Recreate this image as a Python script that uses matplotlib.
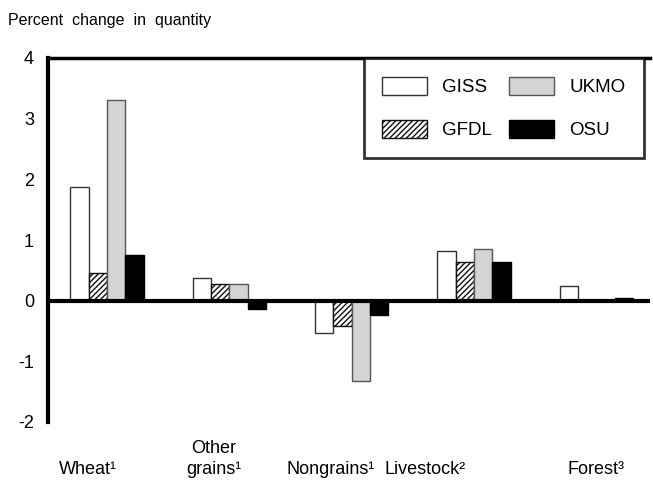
import matplotlib
matplotlib.use("Agg")
import matplotlib.pyplot as plt
import matplotlib.transforms as mtransforms
from matplotlib.patches import Patch
import numpy as np

plt.rcParams['font.family'] = ['Liberation Sans', 'DejaVu Sans']
plt.rcParams['hatch.linewidth'] = 1.0

# ---- data ----
categories = ['Wheat\u00b9', 'Other\ngrains\u00b9', 'Nongrains\u00b9', 'Livestock\u00b2', 'Forest\u00b3']
series = ['GISS', 'GFDL', 'UKMO', 'OSU']
giss = [1.87, 0.37, -0.54, 0.82, 0.25]
gfdl = [0.46, 0.27, -0.41, 0.64, 0.0]
ukmo = [3.30, 0.27, -1.33, 0.85, 0.0]
osu = [0.75, -0.14, -0.24, 0.64, 0.04]
yticks = [-2, -1, 0, 1, 2, 3, 4]

# ---- styles ----
styles = {
    'GISS': dict(facecolor='white', edgecolor='#333333', hatch=None),
    'GFDL': dict(facecolor='white', edgecolor='#111111', hatch='//////'),
    'UKMO': dict(facecolor='#d4d4d4', edgecolor='#555555', hatch=None),
    'OSU': dict(facecolor='black', edgecolor='black', hatch=None),
}
label_offsets = [-0.16, -0.13, -0.17, -0.40, 0.0]

fig = plt.figure(figsize=(6.53, 4.82), dpi=100)
ax = fig.add_axes([48/653, 1-422/482, (650-48)/653, (422-58)/482])

x = np.arange(len(categories))
w = 0.15
values = [giss, gfdl, ukmo, osu]
for i, (name, vals) in enumerate(zip(series, values)):
    st = styles[name]
    ax.bar(x + (i - 1.5) * w, vals, width=w, facecolor=st['facecolor'],
           edgecolor=st['edgecolor'], hatch=st['hatch'], linewidth=1.0, zorder=2)

ax.axhline(0, color='black', linewidth=3, zorder=3)
ax.set_xlim(-0.483, 4.44)
ax.set_ylim(-2, 4)
ax.set_yticks(yticks)
ax.set_yticklabels([str(t) for t in yticks], fontsize=13)
ax.tick_params(axis='y', length=0, pad=10)
ax.set_xticks([])
for s in ['right', 'bottom']:
    ax.spines[s].set_visible(False)
ax.spines['left'].set_linewidth(3)
ax.spines['top'].set_linewidth(2.5)

trans = mtransforms.blended_transform_factory(ax.transData, fig.transFigure)
for xi, lab, off in zip(x, categories, label_offsets):
    ax.text(xi + off, 1 - 474/482, lab, transform=trans, ha='center', va='baseline',
            fontsize=13, linespacing=1.3)

fig.text(8/653, 1 - 20/482, 'Percent  change  in  quantity', fontsize=11.5, va='center', ha='left')

handles = [Patch(facecolor=styles[n]['facecolor'], edgecolor=styles[n]['edgecolor'],
                 hatch=styles[n]['hatch'], linewidth=1.0) for n in series]
leg = ax.legend(handles, series, ncol=2,
                loc='upper right', bbox_to_anchor=(1 - 6/602, 1), borderaxespad=0,
                fontsize=13.5, handlelength=2.4, handleheight=1.1, handletextpad=0.8,
                columnspacing=0.9, labelspacing=1.25, borderpad=1.0,
                fancybox=False, frameon=True)
leg.get_frame().set_edgecolor('black')
leg.get_frame().set_linewidth(2)

fig.savefig('out.png', dpi=100)
